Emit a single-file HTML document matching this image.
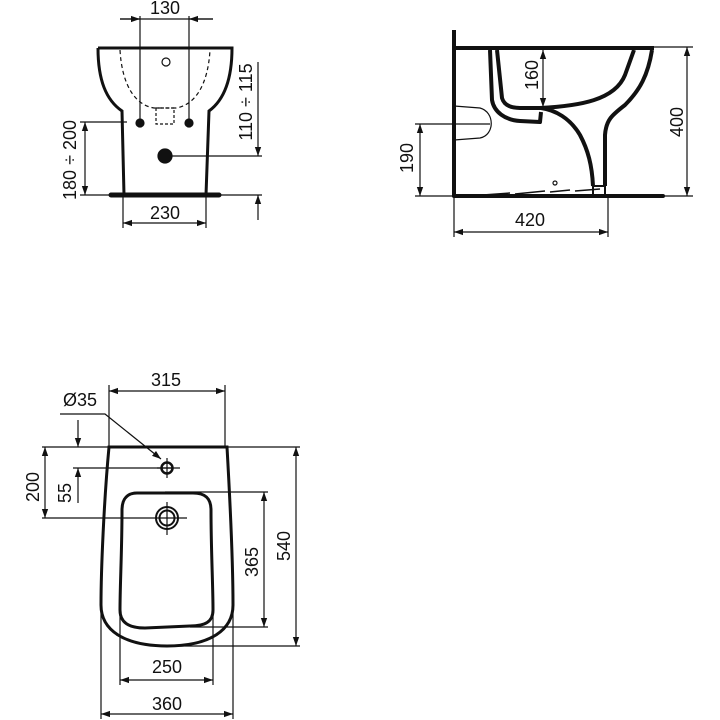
<!DOCTYPE html>
<html><head><meta charset="utf-8"><style>
html,body{margin:0;padding:0;background:#fff;}
svg{display:block;}
text{font-family:"Liberation Sans",Arial,sans-serif;font-size:18px;fill:#111;}
</style></head><body>
<svg width="720" height="720" viewBox="0 0 720 720" xmlns="http://www.w3.org/2000/svg">
<defs>
<marker id="a" viewBox="0 0 10 10" refX="10" refY="5" markerWidth="9" markerHeight="9" orient="auto-start-reverse" markerUnits="userSpaceOnUse"><path d="M0,1.5 L10,5 L0,8.5 z" fill="#111"/></marker>
</defs>
<g stroke="#111" fill="none" stroke-width="1.2">
<!-- FRONT VIEW -->
<line x1="120" y1="19" x2="213" y2="19"/>
<line x1="120" y1="19" x2="140" y2="19" marker-end="url(#a)"/>
<line x1="213" y1="19" x2="189" y2="19" marker-end="url(#a)"/>
<line x1="140" y1="16" x2="140" y2="123"/>
<line x1="189" y1="16" x2="189" y2="123"/>
<path d="M98,48 L232,48 C232,80 224,100 209,111 L206,195 M98,48 C98,80 106,100 122,111 L124,195" stroke-width="3"/>
<line x1="111" y1="195" x2="219" y2="195" stroke-width="5" stroke-linecap="round"/>
<path d="M120,50 C122,85 135,105 154,108 L176,108 C195,105 208,85 210,50" stroke-dasharray="4,3"/>
<rect x="156" y="108" width="18" height="16" stroke-dasharray="3,2"/>
<circle cx="166" cy="62" r="4"/>
<circle cx="140" cy="123" r="4" fill="#111"/>
<circle cx="189" cy="123" r="4" fill="#111"/>
<circle cx="165" cy="156" r="7" fill="#111"/>
<line x1="80" y1="122" x2="127" y2="122"/>
<line x1="85" y1="122" x2="85" y2="195" marker-start="url(#a)" marker-end="url(#a)"/>
<line x1="80" y1="195" x2="262" y2="195"/>
<line x1="170" y1="156" x2="262" y2="156"/>
<line x1="258" y1="62" x2="258" y2="156" marker-end="url(#a)"/>
<line x1="258" y1="220" x2="258" y2="195" marker-end="url(#a)"/>
<line x1="123" y1="195" x2="123" y2="228"/>
<line x1="206" y1="195" x2="206" y2="228"/>
<line x1="123" y1="223" x2="206" y2="223" marker-start="url(#a)" marker-end="url(#a)"/>

<!-- SIDE VIEW -->
<line x1="454" y1="30" x2="454" y2="197" stroke-width="4"/>
<line x1="454" y1="196" x2="663" y2="196" stroke-width="4" stroke-linecap="round"/>
<line x1="454" y1="48" x2="654" y2="48" stroke-width="4"/>
<line x1="654" y1="47" x2="693" y2="47"/>
<line x1="610" y1="196" x2="693" y2="196"/>
<line x1="687" y1="47" x2="687" y2="196" marker-start="url(#a)" marker-end="url(#a)"/>
<path d="M490,50 L492,100 C494,112 505,120 520,121 L540,122 L541,112 M497,50 L502,98 C504,105 510,108 520,108 L540,108 C580,106 615,100 625,75 L634,50 M652,50 C648,75 640,90 625,105 C612,115 606,120 605,135 L605,186 M541,108 C555,110 570,118 580,135 C588,150 592,165 593,186" stroke-width="4" stroke-linejoin="round"/>
<path d="M593,186 L605,186 M593,186 L593,196 M605,186 L605,196" stroke-width="2"/>
<path d="M454,106 L480,108 C495,112 495,135 480,138 L454,140"/>
<path d="M483,195 L510,193 M515,194 L545,191 M550,192 L570,190 M575,191 L600,189" stroke-width="1.5"/>
<circle cx="555" cy="183" r="2"/>
<line x1="415" y1="124" x2="490" y2="124"/>
<line x1="415" y1="196" x2="454" y2="196"/>
<line x1="420" y1="124" x2="420" y2="196" marker-start="url(#a)" marker-end="url(#a)"/>
<line x1="543" y1="50" x2="543" y2="107" marker-start="url(#a)" marker-end="url(#a)"/>
<line x1="608" y1="196" x2="608" y2="237"/>
<line x1="454" y1="196" x2="454" y2="237"/>
<line x1="454" y1="232" x2="608" y2="232" marker-start="url(#a)" marker-end="url(#a)"/>

<!-- TOP VIEW -->
<line x1="109" y1="385" x2="109" y2="447"/>
<line x1="225" y1="385" x2="225" y2="447"/>
<line x1="109" y1="391" x2="225" y2="391" marker-start="url(#a)" marker-end="url(#a)"/>
<path d="M60,414 L105,414 L161,459" marker-end="url(#a)"/>
<path d="M109,447 L227,447 C230,500 233,570 233,605 C233,630 210,646 167,646 C124,646 101,630 101,605 C101,570 104,500 109,447 Z" stroke-width="3"/>
<path d="M137,493 L193,493 C205,493 211,498 211,510 C211,550 213,585 213,610 C213,622 205,626 190,626 L145,628 C128,628 120,622 120,610 C120,585 122,550 122,510 C122,498 128,493 137,493 Z" stroke-width="3"/>
<circle cx="167" cy="468" r="5.5" stroke-width="2.5"/>
<line x1="167" y1="458" x2="167" y2="478"/>
<line x1="157" y1="468" x2="180" y2="468"/>
<circle cx="167" cy="518" r="11" stroke-width="2"/>
<circle cx="167" cy="518" r="7.5" stroke-width="2"/>
<line x1="167" y1="502" x2="167" y2="535"/>
<line x1="42" y1="447" x2="300" y2="447"/>
<line x1="42" y1="518" x2="187" y2="518"/>
<line x1="45" y1="447" x2="45" y2="518" marker-start="url(#a)" marker-end="url(#a)"/>
<line x1="73" y1="468" x2="172" y2="468"/>
<line x1="78" y1="420" x2="78" y2="447" marker-end="url(#a)"/>
<line x1="78" y1="503" x2="78" y2="468" marker-end="url(#a)"/>
<line x1="165" y1="492" x2="268" y2="492"/>
<line x1="190" y1="627" x2="268" y2="627"/>
<line x1="264" y1="492" x2="264" y2="627" marker-start="url(#a)" marker-end="url(#a)"/>
<line x1="170" y1="646" x2="300" y2="646"/>
<line x1="296" y1="447" x2="296" y2="646" marker-start="url(#a)" marker-end="url(#a)"/>
<line x1="120" y1="610" x2="120" y2="685"/>
<line x1="213" y1="610" x2="213" y2="685"/>
<line x1="120" y1="680" x2="213" y2="680" marker-start="url(#a)" marker-end="url(#a)"/>
<line x1="101" y1="605" x2="101" y2="719"/>
<line x1="233" y1="605" x2="233" y2="719"/>
<line x1="101" y1="714" x2="233" y2="714" marker-start="url(#a)" marker-end="url(#a)"/>
</g>
<g>
<text x="165" y="14" text-anchor="middle">130</text>
<text x="165" y="219" text-anchor="middle">230</text>
<text transform="translate(76,160) rotate(-90)" text-anchor="middle">180 ÷ 200</text>
<text transform="translate(252,102) rotate(-90)" text-anchor="middle">110 ÷ 115</text>
<text x="530" y="226" text-anchor="middle">420</text>
<text transform="translate(413,158) rotate(-90)" text-anchor="middle">190</text>
<text transform="translate(538,75) rotate(-90)" text-anchor="middle">160</text>
<text transform="translate(683,122) rotate(-90)" text-anchor="middle">400</text>
<text x="166" y="386" text-anchor="middle">315</text>
<text x="80" y="406" text-anchor="middle">Ø35</text>
<text transform="translate(39,487) rotate(-90)" text-anchor="middle">200</text>
<text transform="translate(71,493) rotate(-90)" text-anchor="middle">55</text>
<text transform="translate(258,562) rotate(-90)" text-anchor="middle">365</text>
<text transform="translate(290,546) rotate(-90)" text-anchor="middle">540</text>
<text x="167" y="673" text-anchor="middle">250</text>
<text x="167" y="710" text-anchor="middle">360</text>
</g>
</svg>
</body></html>
